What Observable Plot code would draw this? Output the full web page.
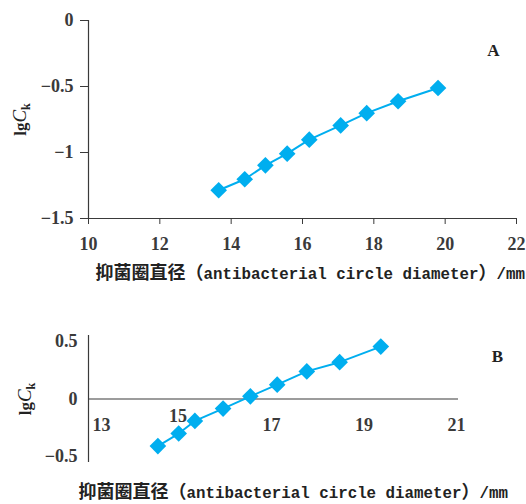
<!DOCTYPE html>
<html><head><meta charset="utf-8">
<script src="https://cdn.jsdelivr.net/npm/d3@7"></script>
<script src="https://cdn.jsdelivr.net/npm/@observablehq/plot@0.6"></script>
<style>
body{margin:0;background:#fff;}
#chart{width:526px;}
#chart svg{display:block;}
</style></head><body><div id="chart"></div>
<script>
// Panel A data
const xA = [13.65, 14.38, 14.96, 15.57, 16.19, 17.07, 17.80, 18.68, 19.80];
const yA = [-1.286, -1.203, -1.097, -1.009, -0.903, -0.795, -0.702, -0.612, -0.511];
// Panel B data
const xB = [14.50, 14.95, 15.30, 15.91, 16.50, 17.08, 17.72, 18.43, 19.32];
const yB = [-0.408, -0.299, -0.190, -0.083, 0.023, 0.124, 0.239, 0.319, 0.454];
// Tick labels
const xTicksA = [10, 12, 14, 16, 18, 20, 22];
const yTicksA = [0, -0.5, -1, -1.5];
const xTicksB = [13, 15, 17, 19, 21];
const yTicksB = [0.5, 0, -0.5];
// Texts
const panelA = "A";
const panelB = "B";
const titleCJK = "抑菌圈直径（";
const titleLatin = "antibacterial circle diameter";
const titleClose = "）";
const titleUnit = "/mm";
const yLabelParts = ["lg", "C", "k"];

const dataA = xA.map((x, i) => ({x, y: yA[i]}));
const dataB = xB.map((x, i) => ({x, y: yB[i]}));

const axisColor = "#3a3a3a";
const blue = "#00AEEF";
const serif = "'Liberation Serif', 'DejaVu Serif', serif";
const fmt = d => d < 0 ? "\u2212" + Math.abs(d) : String(d);
const baseStyle = {fontFamily: serif, fontSize: "18px", fontWeight: "bold", color: axisColor, background: "transparent", overflow: "visible"};
const fullTitle = titleCJK + titleLatin + titleClose + titleUnit;

const plotA = Plot.plot({
  width: 526, height: 290,
  marginLeft: 88, marginRight: 10, marginTop: 20, marginBottom: 72,
  style: baseStyle,
  x: {domain: [10, 22], ticks: xTicksA, tickSize: 6, tickPadding: 13, label: null, tickFormat: d => String(d)},
  y: {domain: [-1.5, 0], ticks: yTicksA, tickSize: 8, tickPadding: 7, label: null, tickFormat: fmt},
  marks: [
    Plot.ruleX([10], {stroke: axisColor, strokeWidth: 1.2}),
    Plot.ruleY([-1.5], {stroke: axisColor, strokeWidth: 1.2}),
    Plot.line(dataA, {x: "x", y: "y", stroke: blue, strokeWidth: 2}),
    Plot.dot(dataA, {x: "x", y: "y", symbol: "diamond2", r: 7.5, fill: blue, stroke: "none"}),
    Plot.text([panelA], {frameAnchor: "top-right", textAnchor: "middle", lineAnchor: "middle", dx: -23, dy: 30, fontSize: 17, fill: "#222"}),
    Plot.text([yLabelParts.join("")], {frameAnchor: "left", textAnchor: "middle", lineAnchor: "middle", dx: -68, rotate: -90, ariaDescription: "ylabel", fill: "#222"}),
    Plot.text([fullTitle], {frameAnchor: "bottom-left", textAnchor: "start", lineAnchor: "middle", dx: 7, dy: 55, ariaDescription: "xtitle", fill: "#222"})
  ]
});

const plotB = Plot.plot({
  width: 526, height: 214,
  marginLeft: 88, marginRight: 68, marginTop: 45, marginBottom: 42,
  style: baseStyle,
  x: {domain: [13, 21], axis: null},
  y: {domain: [-0.55, 0.55], ticks: yTicksB, tickSize: 0, tickPadding: 11, label: null, tickFormat: fmt},
  marks: [
    Plot.ruleX([13], {stroke: axisColor, strokeWidth: 1.2}),
    Plot.ruleY([0], {stroke: axisColor, strokeWidth: 1.2}),
    Plot.text(xTicksB.filter(d => d !== 13 && d !== 15), {x: d => d, y: 0, text: d => String(d), dy: 26, dx: -2, fill: axisColor}),
    Plot.text(xTicksB.filter(d => d === 15), {x: d => d, y: 0, text: d => String(d), dy: 17, dx: -3, fill: axisColor}),
    Plot.text(xTicksB.filter(d => d === 13), {x: d => d, y: 0, text: d => String(d), dy: 26, dx: 13, fill: axisColor}),
    Plot.line(dataB, {x: "x", y: "y", stroke: blue, strokeWidth: 2}),
    Plot.dot(dataB, {x: "x", y: "y", symbol: "diamond2", r: 7.5, fill: blue, stroke: "none"}),
    Plot.text([panelB], {frameAnchor: "top-right", textAnchor: "middle", lineAnchor: "middle", dx: 39, dy: 21, fontSize: 17, fill: "#222"}),
    Plot.text([yLabelParts.join("")], {frameAnchor: "left", textAnchor: "middle", lineAnchor: "middle", dx: -63, rotate: -90, ariaDescription: "ylabel", fill: "#222"}),
    Plot.text([fullTitle], {frameAnchor: "bottom-left", textAnchor: "start", lineAnchor: "middle", dx: -10, dy: 30, ariaDescription: "xtitle", fill: "#222"})
  ]
});

function findTexts(svg, desc) {
  return Array.from(svg.querySelectorAll("g")).filter(g => g.getAttribute("aria-description") === desc)
    .flatMap(g => Array.from(g.querySelectorAll("text")));
}

const cjkFont = "'Noto Sans CJK SC', sans-serif";
const monoFont = "'Liberation Mono', 'DejaVu Sans Mono', monospace";

function styleLabels(svg) {
  findTexts(svg, "ylabel").forEach(t => {
    const s = d3.select(t).text(null).style("font-size", "17px");
    s.append("tspan").text(yLabelParts[0]);
    s.append("tspan").style("font-style", "italic").style("font-weight", "normal").style("font-size", "19px").text(yLabelParts[1]);
    s.append("tspan").style("font-size", "12px").attr("dy", "0.35em").text(yLabelParts[2]);
  });
  findTexts(svg, "xtitle").forEach(t => {
    const s = d3.select(t).text(null);
    s.append("tspan").style("font-family", cjkFont).style("font-size", "18px").style("font-weight", "bold").text(titleCJK);
    s.append("tspan").style("font-family", monoFont).style("font-size", "15.8px").style("font-weight", "bold").text(titleLatin);
    s.append("tspan").style("font-family", cjkFont).style("font-size", "18px").style("font-weight", "bold").text(titleClose);
    s.append("tspan").style("font-family", monoFont).style("font-size", "15.8px").style("font-weight", "bold").text(titleUnit);
  });
}
styleLabels(plotA);
styleLabels(plotB);

const chart = document.getElementById("chart");
chart.appendChild(plotA);
chart.appendChild(plotB);
</script>
</body></html>
